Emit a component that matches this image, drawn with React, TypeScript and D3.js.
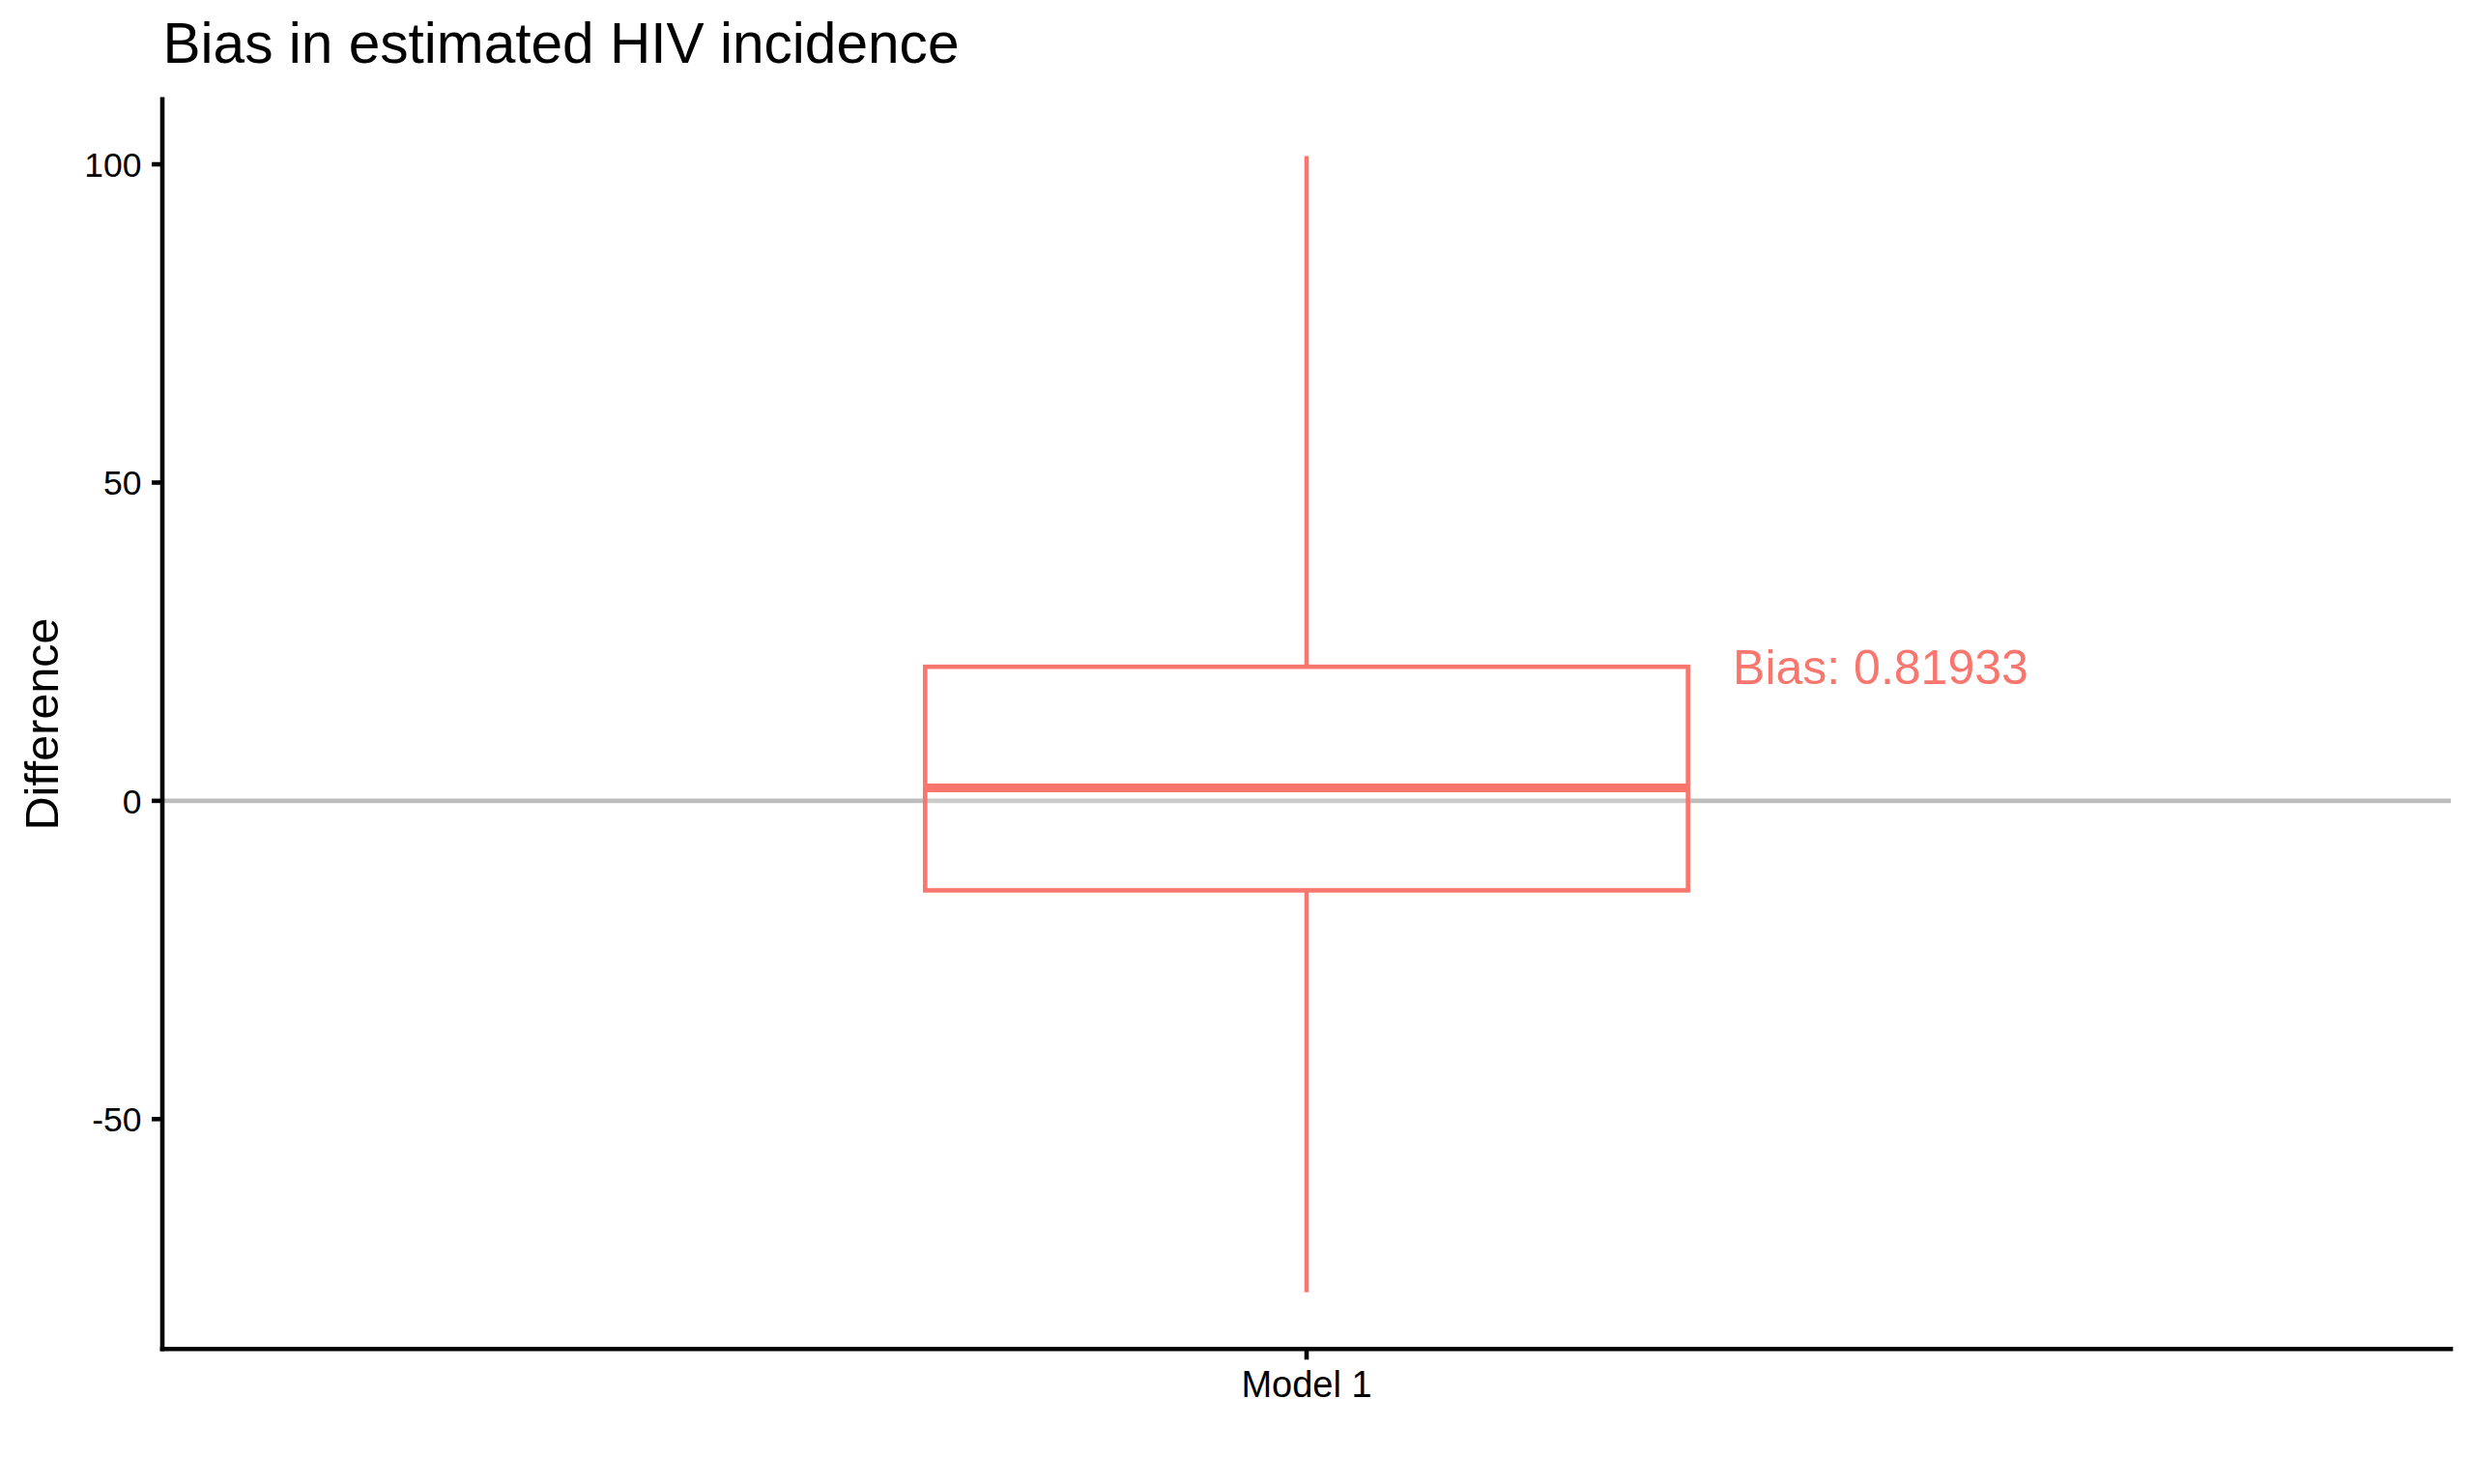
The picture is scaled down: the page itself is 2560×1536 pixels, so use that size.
import React from "react";
import * as d3 from "d3";

const categories = ["Model 1"];
const whiskerLow = [-77.2];
const q1 = [-14.06];
const median = [2.03];
const q3 = [21.06];
const whiskerHigh = [101.3];
const biasLabels = ["Bias: 0.81933"];
const yTicks = [-50, 0, 50, 100];
const titleText = "Bias in estimated HIV incidence";
const yTitle = "Difference";

const W = 2560;
const H = 1536;
const FONT = "'Liberation Sans', Arial, Helvetica, sans-serif";
const COL = "#F8766D";

export default function App() {
  const left = 168;
  const right = 2536;
  const top = 102.7;
  const bottom = 1396.3;

  const dMin = d3.min(whiskerLow) as number;
  const dMax = d3.max(whiskerHigh) as number;
  const pad = (dMax - dMin) * 0.05;
  const y = d3.scaleLinear().domain([dMin - pad, dMax + pad]).range([bottom, top]);
  const x = d3.scaleLinear().domain([0.4, categories.length + 0.6]).range([left, right]);
  const boxHalf = 0.2;
  const lw = 4.6;

  return (
    <svg
      width={W}
      height={H}
      viewBox={`0 0 ${W} ${H}`}
      style={{ position: "absolute", left: 0, top: 0, background: "#fff" }}
      fontFamily={FONT}
    >
      <rect x={0} y={0} width={W} height={H} fill="#fff" />
      {/* zero reference line */}
      <line x1={left} x2={right} y1={y(0)} y2={y(0)} stroke="#BEBEBE" strokeWidth={lw} />

      {categories.map((c, i) => {
        const cx = x(i + 1);
        const x0 = x(i + 1 - boxHalf);
        const x1 = x(i + 1 + boxHalf);
        return (
          <g key={c}>
            <line x1={cx} x2={cx} y1={y(q3[i])} y2={y(whiskerHigh[i])} stroke={COL} strokeWidth={lw} />
            <line x1={cx} x2={cx} y1={y(q1[i])} y2={y(whiskerLow[i])} stroke={COL} strokeWidth={lw} />
            <rect
              x={x0}
              y={y(q3[i])}
              width={x1 - x0}
              height={y(q1[i]) - y(q3[i])}
              fill="#ffffff"
              fillOpacity={0.2}
              stroke={COL}
              strokeWidth={lw}
            />
            <line x1={x0} x2={x1} y1={y(median[i])} y2={y(median[i])} stroke={COL} strokeWidth={lw * 2} />
            <text
              x={x(i + 1 + 0.2235)}
              y={y(q3[i])}
              dy="0.36em"
              fontSize={50}
              fill={COL}
              textAnchor="start"
            >
              {biasLabels[i]}
            </text>
          </g>
        );
      })}

      {/* y axis */}
      <line x1={left} x2={left} y1={top} y2={bottom} stroke="#000" strokeWidth={lw} strokeLinecap="square" />
      {yTicks.map((t) => (
        <g key={t}>
          <line x1={left - 11} x2={left} y1={y(t)} y2={y(t)} stroke="#000" strokeWidth={lw} />
          <text x={146.5} y={y(t)} dy="0.36em" fontSize={35.5} textAnchor="end" fill="#000">
            {t}
          </text>
        </g>
      ))}

      {/* x axis */}
      <line x1={left} x2={right} y1={bottom} y2={bottom} stroke="#000" strokeWidth={lw} strokeLinecap="square" />
      {categories.map((c, i) => (
        <g key={c}>
          <line x1={x(i + 1)} x2={x(i + 1)} y1={bottom} y2={bottom + 11} stroke="#000" strokeWidth={lw} />
          <text x={x(i + 1)} y={1446} fontSize={38} textAnchor="middle" fill="#000">
            {c}
          </text>
        </g>
      ))}

      {/* axis title */}
      <text
        transform={`translate(60, ${(top + bottom) / 2}) rotate(-90)`}
        fontSize={48.5}
        textAnchor="middle"
        fill="#000"
      >
        {yTitle}
      </text>

      {/* title */}
      <text x={168.5} y={65} fontSize={58.6} fill="#000">
        {titleText}
      </text>
    </svg>
  );
}
